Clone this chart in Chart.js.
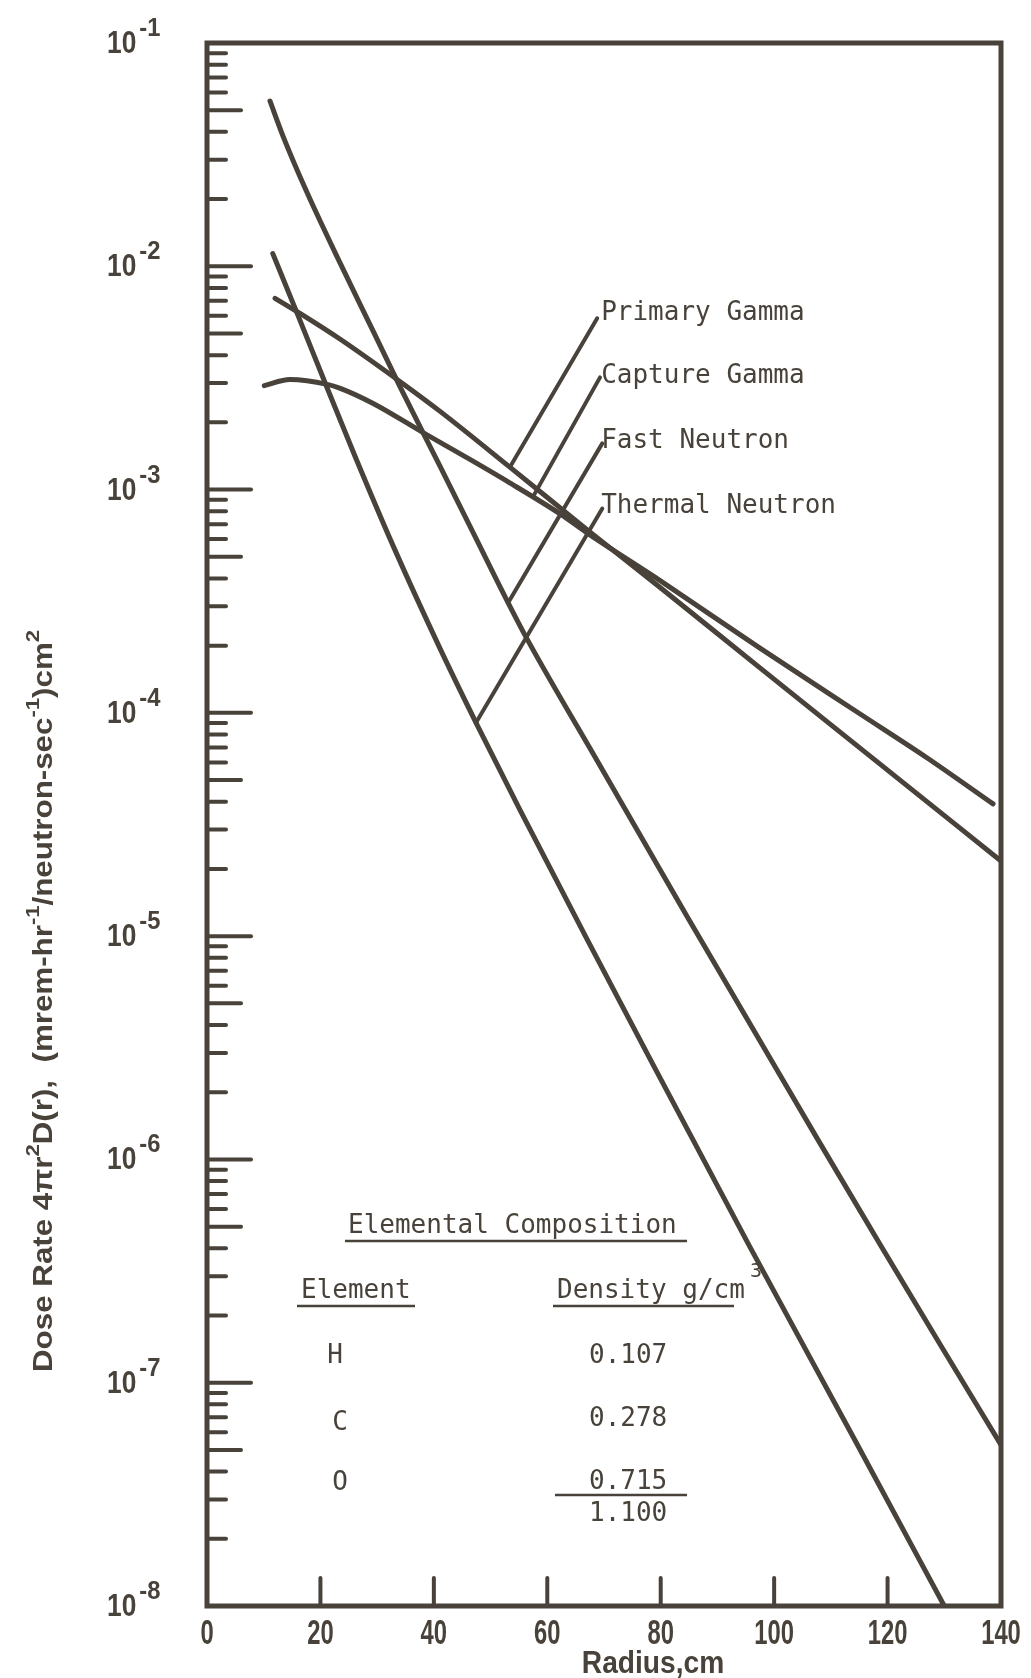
<!DOCTYPE html>
<html>
<head>
<meta charset="utf-8">
<script src="https://cdn.jsdelivr.net/npm/chart.js@4.4.1/dist/chart.umd.min.js"></script>
<style>
  html, body { margin: 0; padding: 0; background: #fff; }
</style>
</head>
<body>
<canvas id="dose" width="1031" height="1678"></canvas>
<script>
// radius (cm) and dose rate, one pair of arrays per curve
const primaryR = [12.0, 16.4, 23.5, 34.0, 41.1, 53.4, 67.0, 79.9, 97.5, 115.1, 140];
const primaryDose = [0.00719, 0.00615, 0.00471, 0.00305, 0.00224, 0.00126, 0.000662, 0.000364, 0.000159, 6.97e-5, 2.17e-5];

const captureR = [10.1, 14.6, 21.2, 23.5, 29.3, 38.1, 46.9, 52.9, 62.2, 67.0, 79.9, 97.5, 115.1, 127.0, 138.6];
const captureDose = [0.00292, 0.00311, 0.00296, 0.00284, 0.00243, 0.00180, 0.00134, 0.00109, 0.000780, 0.000640, 0.000391, 0.000195, 9.91e-5, 6.28e-5, 3.91e-5];

const fastR = [11.1, 13.4, 17.6, 23.5, 29.3, 34.0, 41.1, 47.1, 53.1, 56.4, 68.8, 84.6, 96.3, 108.1, 119.0, 129.3, 140];
const fastDose = [0.0550, 0.0383, 0.0215, 0.0103, 0.00512, 0.00290, 0.00127, 0.000628, 0.000311, 0.000215, 6.10e-5, 1.23e-5, 3.83e-6, 1.18e-6, 4.03e-7, 1.48e-7, 5.27e-8];

const thermalR = [11.6, 15.9, 20.5, 26.1, 32.8, 41.1, 47.8, 55.2, 67.0, 78.6, 95.7, 114.3, 130.0];
const thermalDose = [0.0114, 0.00615, 0.00315, 0.00141, 0.000561, 0.000194, 8.65e-5, 3.67e-5, 9.70e-6, 2.67e-6, 4.07e-7, 5.50e-8, 1.0e-8];

const seriesNames = ['Primary Gamma', 'Capture Gamma', 'Fast Neutron', 'Thermal Neutron'];

const xTickValues = [0, 20, 40, 60, 80, 100, 120, 140];
const decadeExps = [-1, -2, -3, -4, -5, -6, -7, -8];

const elements = ['H', 'C', 'O'];
const densities = ['0.107', '0.278', '0.715'];
const densityTotal = '1.100';

// where the curve names sit and where their pointer lines touch the curves (data coords)
const nameAnchors = [[69.5, 0.00573], [69.5, 0.00299], [69.5, 0.00154], [69.5, 0.000789]];
const leaderFrom = [[68.8, 0.00585], [69.3, 0.00318], [69.7, 0.00161], [69.7, 0.000822]];
const leaderTo = [[53.4, 0.00126], [57.5, 0.00093], [53.1, 0.000311], [47.4, 9.0e-5]];

const ink = '#48423a';
const sans = '"Liberation Sans", Arial, sans-serif';
const mono = '"DejaVu Sans Mono", monospace';

function toPoints(rs, vs) {
  return rs.map((r, i) => ({ x: r, y: vs[i] }));
}

// condensed bold lettering like the original stencil
function squeezed(ctx, text, x, y, size, sx, align) {
  ctx.save();
  ctx.font = 'bold ' + size + 'px ' + sans;
  const w = ctx.measureText(text).width * sx;
  let x0 = x;
  if (align === 'center') x0 = x - w / 2;
  if (align === 'right') x0 = x - w;
  ctx.translate(x0, y);
  ctx.scale(sx, 1);
  ctx.textAlign = 'left';
  ctx.fillText(text, 0, 0);
  ctx.restore();
  return w;
}

function typed(ctx, text, x, y, size, align) {
  ctx.font = size + 'px ' + mono;
  ctx.textAlign = align || 'left';
  ctx.fillText(text, x, y);
}

const yTitle = [
  ['Dose Rate 4\u03c0r', false], ['2', true], ['D(r),  (mrem-hr', false], ['-1', true],
  ['/neutron-sec', false], ['-1', true], [')cm', false], ['2', true]
];

const decorations = {
  id: 'decorations',
  afterDraw(chart) {
    const { ctx, chartArea: a, scales: { x, y } } = chart;
    ctx.save();
    ctx.strokeStyle = ink;
    ctx.fillStyle = ink;
    ctx.lineCap = 'round';
    ctx.textBaseline = 'alphabetic';

    // frame
    ctx.lineWidth = 5;
    ctx.strokeRect(a.left, a.top, a.right - a.left, a.bottom - a.top);

    // log ticks on the left, pointing in
    ctx.lineWidth = 4;
    decadeExps.forEach(e => {
      for (let m = 1; m <= 9; m++) {
        const v = m * Math.pow(10, e - 1);
        if (v < y.min || v > y.max) continue;
        const py = y.getPixelForValue(v);
        const len = m === 1 ? 44 : (m === 5 ? 34 : 19);
        ctx.beginPath();
        ctx.moveTo(a.left, py);
        ctx.lineTo(a.left + len, py);
        ctx.stroke();
      }
    });

    // x ticks pointing up
    xTickValues.forEach(v => {
      if (v === x.min || v === x.max) return;
      const px = x.getPixelForValue(v);
      ctx.beginPath();
      ctx.moveTo(px, a.bottom);
      ctx.lineTo(px, a.bottom - 28);
      ctx.stroke();
    });

    // x tick labels and title
    xTickValues.forEach(v => {
      squeezed(ctx, String(v), x.getPixelForValue(v), a.bottom + 38, 35, 0.68, 'center');
    });
    squeezed(ctx, 'Radius,cm', 653, 1673, 32, 0.88, 'center');

    // y decade labels 10^-n
    decadeExps.forEach(e => {
      const py = y.getPixelForValue(Math.pow(10, e));
      const w = squeezed(ctx, '10', 107, py + 10, 31, 0.85, 'left');
      squeezed(ctx, '-' + Math.abs(e), 107 + w + 3, py - 7, 25, 0.95, 'left');
    });

    // y title, rotated, with superscripts
    const size = 27;
    ctx.save();
    ctx.translate(52, 1372);
    ctx.rotate(-Math.PI / 2);
    let total = 0;
    yTitle.forEach(([t, sup]) => {
      ctx.font = 'bold ' + (sup ? Math.round(size * 0.72) : size) + 'px ' + sans;
      total += ctx.measureText(t).width;
    });
    ctx.scale(742 / total, 1);
    let cx = 0;
    yTitle.forEach(([t, sup]) => {
      ctx.font = 'bold ' + (sup ? Math.round(size * 0.72) : size) + 'px ' + sans;
      ctx.textAlign = 'left';
      ctx.fillText(t, cx, sup ? -size * 0.48 : 0);
      cx += ctx.measureText(t).width;
    });
    ctx.restore();

    // curve names with pointer lines
    ctx.lineWidth = 4;
    seriesNames.forEach((name, i) => {
      ctx.beginPath();
      ctx.moveTo(x.getPixelForValue(leaderFrom[i][0]), y.getPixelForValue(leaderFrom[i][1]));
      ctx.lineTo(x.getPixelForValue(leaderTo[i][0]), y.getPixelForValue(leaderTo[i][1]));
      ctx.stroke();
      typed(ctx, name, x.getPixelForValue(nameAnchors[i][0]), y.getPixelForValue(nameAnchors[i][1]), 26);
    });

    // composition table
    ctx.lineWidth = 2.5;
    ctx.lineCap = 'butt';
    typed(ctx, 'Elemental Composition', 348, 1233, 26);
    ctx.beginPath(); ctx.moveTo(345, 1241); ctx.lineTo(687, 1241); ctx.stroke();
    typed(ctx, 'Element', 301, 1298, 26);
    ctx.beginPath(); ctx.moveTo(297, 1306); ctx.lineTo(415, 1306); ctx.stroke();
    typed(ctx, 'Density g/cm', 557, 1298, 26);
    typed(ctx, '3', 750, 1277, 20);
    ctx.beginPath(); ctx.moveTo(553, 1306); ctx.lineTo(734, 1306); ctx.stroke();
    const elemX = [335, 340, 340];
    const elemY = [1363, 1430, 1490];
    const densY = [1363, 1426, 1489];
    elements.forEach((el, i) => {
      typed(ctx, el, elemX[i], elemY[i], 26, 'center');
      typed(ctx, densities[i], 589, densY[i], 26);
    });
    ctx.beginPath(); ctx.moveTo(555, 1495); ctx.lineTo(687, 1495); ctx.stroke();
    typed(ctx, densityTotal, 589, 1521, 26);

    ctx.restore();
  }
};

function curve(label, rs, vs) {
  return {
    label: label,
    data: toPoints(rs, vs),
    showLine: true,
    borderColor: ink,
    borderWidth: 5,
    borderCapStyle: 'round',
    borderJoinStyle: 'round',
    pointRadius: 0,
    cubicInterpolationMode: 'monotone',
    fill: false
  };
}

new Chart(document.getElementById('dose'), {
  type: 'scatter',
  data: {
    datasets: [
      curve(seriesNames[0], primaryR, primaryDose),
      curve(seriesNames[1], captureR, captureDose),
      curve(seriesNames[2], fastR, fastDose),
      curve(seriesNames[3], thermalR, thermalDose)
    ]
  },
  options: {
    animation: false,
    responsive: false,
    devicePixelRatio: 1,
    layout: {
      padding: { top: 43, right: 30, left: 0, bottom: 0 }
    },
    plugins: {
      legend: { display: false },
      tooltip: { enabled: false }
    },
    scales: {
      x: {
        type: 'linear',
        min: 0,
        max: 140,
        ticks: { display: false, stepSize: 20 },
        grid: { display: false },
        border: { display: false },
        afterFit(scale) { scale.height = 72; }
      },
      y: {
        type: 'logarithmic',
        min: 1e-8,
        max: 1e-1,
        ticks: { display: false },
        grid: { display: false },
        border: { display: false },
        afterFit(scale) { scale.width = 207; }
      }
    }
  },
  plugins: [decorations]
});
</script>
</body>
</html>
